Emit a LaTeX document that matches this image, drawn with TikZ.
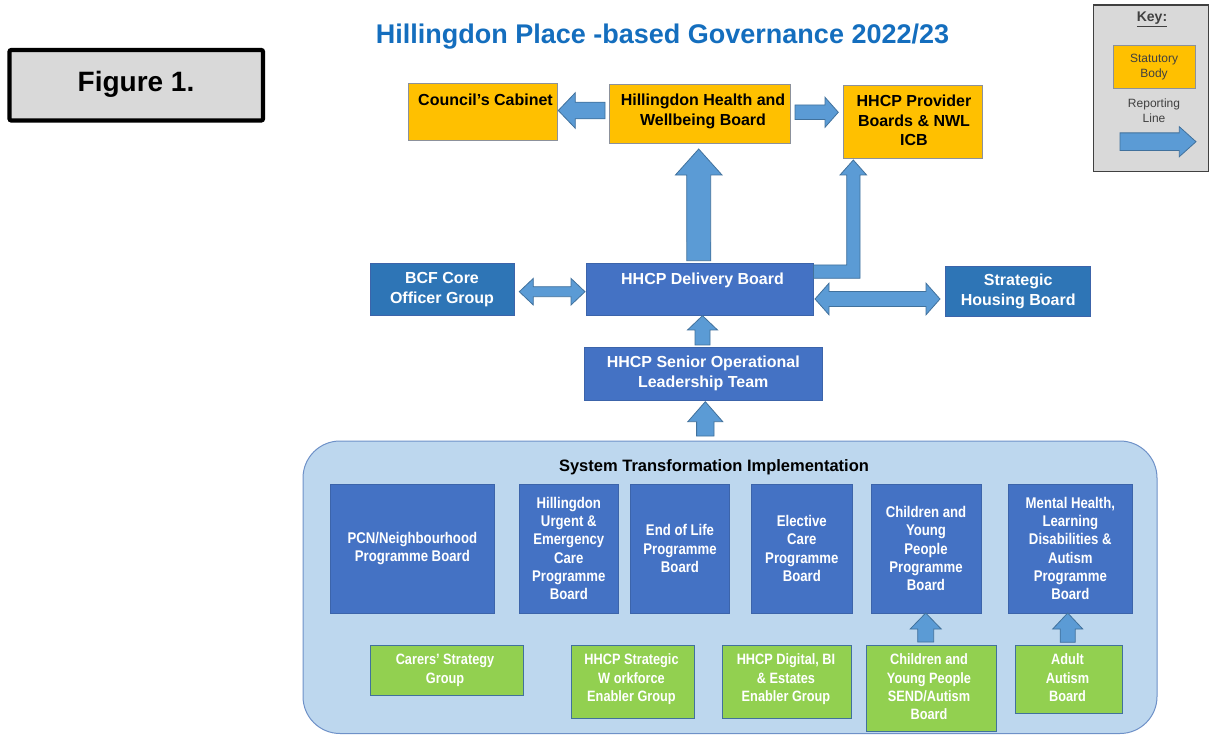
\documentclass[tikz,border=0pt]{standalone}
\usepackage{fontspec}
\setmainfont{Liberation Sans}
\newfontfamily\condsans[FakeStretch=0.85]{Liberation Sans}
\usetikzlibrary{calc}

\definecolor{yellowbox}{RGB}{255,192,0}
\definecolor{yellowline}{RGB}{140,145,155}
\definecolor{bluebox}{RGB}{68,114,196}
\definecolor{blueline}{RGB}{60,100,170}
\definecolor{steelbox}{RGB}{46,117,182}
\definecolor{greenbox}{RGB}{146,208,80}
\definecolor{greenline}{RGB}{65,113,156}
\definecolor{arrowfill}{RGB}{91,155,213}
\definecolor{arrowline}{RGB}{65,113,156}
\definecolor{panelfill}{RGB}{189,215,238}
\definecolor{panelline}{RGB}{110,145,200}
\definecolor{titleblue}{RGB}{20,110,190}
\definecolor{keygrey}{RGB}{217,217,217}
\definecolor{keytext}{RGB}{64,64,64}

% prepare angle/length of a block arrow between two points
\newcommand\baprep[2]{%
  \path let \p1=(#1), \p2=(#2) in \pgfextra{%
    \pgfmathsetmacro\tmpang{atan2(\y2-\y1,\x2-\x1)}%
    \pgfmathsetmacro\tmplen{veclen(\x2-\x1,\y2-\y1)}%
    \xdef\baang{\tmpang}\xdef\balen{\tmplen}%
    \xdef\bax{\x1}\xdef\bay{\y1}};}

% block arrow: tail, tip, half shaft width, half head width, head length
\newcommand\singlearrow[5]{%
  \baprep{#1}{#2}%
  \begin{scope}[shift={(\bax,\bay)},rotate=\baang]
    \path[blockarr] (0pt,-#3pt) -- (\balen pt-#5pt,-#3pt) -- (\balen pt-#5pt,-#4pt)
      -- (\balen pt,0pt) -- (\balen pt-#5pt,#4pt) -- (\balen pt-#5pt,#3pt) -- (0pt,#3pt) -- cycle;
  \end{scope}}

% two-headed block arrow
\newcommand\doublearrow[5]{%
  \baprep{#1}{#2}%
  \begin{scope}[shift={(\bax,\bay)},rotate=\baang]
    \path[blockarr] (0pt,0pt) -- (#5pt,#4pt) -- (#5pt,#3pt) -- (\balen pt-#5pt,#3pt)
      -- (\balen pt-#5pt,#4pt) -- (\balen pt,0pt) -- (\balen pt-#5pt,-#4pt)
      -- (\balen pt-#5pt,-#3pt) -- (#5pt,-#3pt) -- (#5pt,-#4pt) -- cycle;
  \end{scope}}

\begin{document}
\begin{tikzpicture}[x=1pt,y=-1pt,
  sz/.style 2 args={minimum width=#1pt,minimum height=#2pt},
  boxbase/.style={rectangle,draw,line width=0.9pt,inner sep=0pt,outer sep=0pt,anchor=north west},
  yellow/.style={boxbase,fill=yellowbox,draw=yellowline},
  blue/.style={boxbase,fill=bluebox,draw=blueline,text=white,align=center},
  steel/.style={boxbase,fill=steelbox,draw=blueline,text=white,align=center},
  green/.style={boxbase,fill=greenbox,draw=greenline},
  blockarr/.style={fill=arrowfill,draw=arrowline,line width=0.8pt,line join=miter},
  toptext/.style={align=center,inner sep=0pt,anchor=base,text=black,
    font=\bfseries\fontsize{16}{19.5}\selectfont},
  midfont/.style={font=\bfseries\fontsize{16}{20}\selectfont},
  lowfont/.style={font=\condsans\bfseries\fontsize{15.5}{18.3}\selectfont},
  greentext/.style={align=center,inner sep=0pt,anchor=base,text=white,
    font=\condsans\bfseries\fontsize{15}{18.3}\selectfont},
  keyfont/.style={align=center,inner sep=0pt,anchor=base,text=keytext,
    font=\fontsize{12}{14.6}\selectfont}]

\useasboundingbox (0,0) rectangle (1213,735);
\fill[white] (0,0) rectangle (1213,735);

% figure tag
\node[boxbase,draw=black,line width=4.3pt,fill=keygrey,rounded corners=2pt,sz={253.5}{70.5}]
  (fig) at (9.5,50) {};
\node[inner sep=0pt,anchor=base,font=\bfseries\fontsize{28}{32}\selectfont] (figT) at (136,91.7) {Figure 1.};

% title
\node[inner sep=0pt,anchor=base,text=titleblue,font=\bfseries\fontsize{27}{32}\selectfont]
  (title) at (662.5,44) {Hillingdon Place -based Governance 2022/23};

% key (multi-line text nodes are placed by the baseline of their last line)
\node[boxbase,fill=keygrey,draw=keytext,line width=1.2pt,sz={115}{166.7}] (key) at (1093.3,5) {};
\node[inner sep=0pt,anchor=base,font=\bfseries\fontsize{14}{16}\selectfont,text=keytext]
  (keyT) at (1152,21.7) {\underline{Key:}};
\node[yellow,sz={81.7}{43.3}] (keybox) at (1113.3,45) {};
\node[keyfont] (keyboxT) at (1154,77.2) {Statutory\\Body};
\node[keyfont,font=\fontsize{12}{15}\selectfont] (keyline) at (1154,122.6) {Reporting\\Line};
\coordinate (keyA) at (1120,141.7);
\coordinate (keyB) at (1196,141.7);
\singlearrow{keyA}{keyB}{8.8}{15}{16.7}

% statutory bodies
\node[yellow,sz={149.1}{56.5}] (council) at (408.6,83.5) {};
\node[yellow,sz={180.7}{59.3}] (hwb) at (609.3,84) {};
\node[yellow,sz={139}{73.3}] (hhcp) at (843.3,85) {};
\node[toptext] (councilT) at (485.5,105.7) {Council’s Cabinet};
\node[toptext] (hwbT) at (703,125.2) {Hillingdon Health and\\Wellbeing Board};
\node[toptext] (hhcpT) at (914,145.7) {HHCP Provider\\Boards \& NWL\\ICB};

% delivery layer
\node[steel,midfont,sz={144}{52.4}] (bcf) at (370,263.3) {BCF Core\\Officer Group};
\node[blue,sz={227.5}{52.6}] (dlv) at (586,263.3) {};
\node[inner sep=0pt,anchor=base,text=white,midfont] (dlvT) at (702.5,285) {HHCP Delivery Board};
\node[steel,midfont,sz={145}{50}] (housing) at (945.7,266) {Strategic\\Housing Board};
\node[blue,midfont,sz={238.5}{52.7}] (solt) at (584,347.3) {HHCP Senior Operational\\Leadership Team};

% system transformation panel
\node[boxbase,fill=panelfill,draw=panelline,line width=1pt,rounded corners=37pt,sz={854}{292.5}]
  (panel) at (303,441) {};
\node[inner sep=0pt,anchor=base,font=\bfseries\fontsize{16.5}{20}\selectfont] (panelT) at (714,471)
  {System Transformation Implementation};

\node[blue,lowfont,sz={163.3}{129}] (pcn) at (330.7,484) {PCN/Neighbourhood\\Programme Board};
\node[blue,lowfont,sz={99}{129}] (uec) at (519.3,484) {Hillingdon\\Urgent \&\\Emergency\\Care\\Programme\\Board};
\node[blue,lowfont,sz={98.6}{129}] (eol) at (630.7,484) {End of Life\\Programme\\Board};
\node[blue,lowfont,sz={100.3}{129}] (elec) at (751.7,484) {Elective\\Care\\Programme\\Board};
\node[blue,lowfont,sz={110}{129}] (cyp) at (871,484) {Children and\\Young\\People\\Programme\\Board};
\node[blue,lowfont,sz={123.3}{129}] (mh) at (1008.7,484) {Mental Health,\\Learning\\Disabilities \&\\Autism\\Programme\\Board};

\node[green,sz={152.6}{49.3}] (carers) at (370.7,645.7) {};
\node[green,sz={122.3}{72.6}] (wf) at (571.7,645.7) {};
\node[green,sz={129}{72.6}] (dig) at (722.7,645.7) {};
\node[green,sz={130}{85.3}] (send) at (866,645.7) {};
\node[green,sz={107}{67.6}] (adult) at (1015,645.7) {};
\node[greentext] (carersT) at (445,683) {Carers’ Strategy\\Group};
\node[greentext] (wfT) at (631.5,701.3) {HHCP Strategic\\W orkforce\\Enabler Group};
\node[greentext] (digT) at (786,701.3) {HHCP Digital, BI\\\& Estates\\Enabler Group};
\node[greentext] (sendT) at (929,719.6) {Children and\\Young People\\SEND/Autism\\Board};
\node[greentext] (adultT) at (1067.5,701.3) {Adult\\Autism\\Board};

% reporting lines
\singlearrow{$(hwb.west)+(-4.3,-3.15)$}{$(council.east)+(0.6,-1.25)$}{8.3}{17.8}{17}
\singlearrow{$(hwb.east)+(5,-1.35)$}{$(hhcp.west)+(-5,-9.35)$}{7.3}{15}{13.3}
\singlearrow{$(dlv.north)+(-1,-2.6)$}{$(hwb.south)+(-0.95,5.7)$}{12}{23.3}{26}
\path[blockarr] let \p1=(dlv.north east), \p2=(hhcp.south west) in
  (\x1,\y1-1.7pt) -- (\x2+3.4pt,\y1-1.7pt) -- (\x2+3.4pt,\y2-16.7pt) -- (\x2-3.3pt,\y2-16.7pt)
  -- (\x2+10pt,\y2-1.7pt) -- (\x2+23.3pt,\y2-16.7pt) -- (\x2+16.7pt,\y2-16.7pt)
  -- (\x2+16.7pt,\y1-15pt) -- (\x1,\y1-15pt) -- cycle;
\doublearrow{$(bcf.east)+(5.3,2.2)$}{$(dlv.west)+(-1,2.1)$}{5}{13.3}{14}
\doublearrow{$(dlv.east)+(1.5,9.4)$}{$(housing.west)+(-5.7,8)$}{7.5}{15.8}{14}
\singlearrow{$(solt.north)+(-0.75,-2.3)$}{$(dlv.south)+(2.75,-0.2)$}{7.5}{15}{14.3}
\singlearrow{$(panel.north)+(-24.7,-5)$}{$(solt.south)+(2.05,1.7)$}{8.7}{17.5}{20}
\singlearrow{$(send.north)+(-5.3,-3.7)$}{$(cyp.south)+(-0.3,0)$}{8}{15.5}{16}
\singlearrow{$(adult.north)+(-0.8,-3.4)$}{$(mh.south)+(-2.65,0)$}{7.5}{15}{16}
\end{tikzpicture}
\end{document}
